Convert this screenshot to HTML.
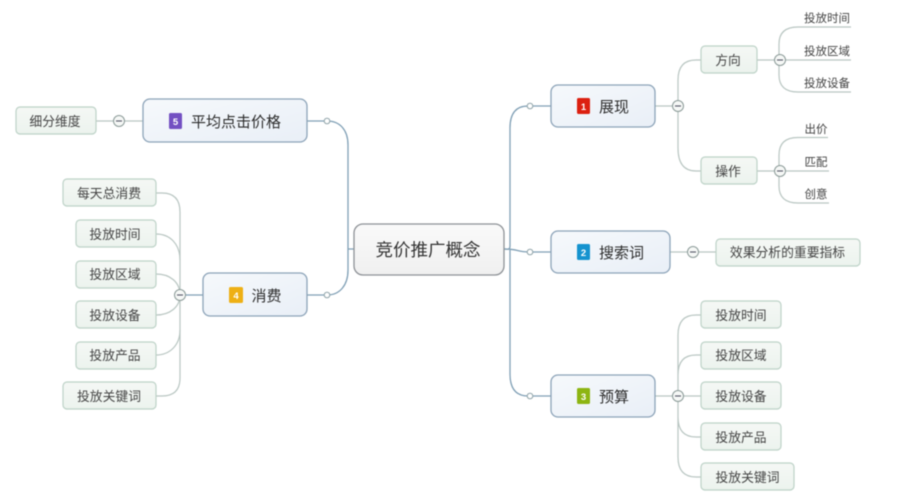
<!DOCTYPE html>
<html><head><meta charset="utf-8">
<style>
html,body{margin:0;padding:0;background:#fff;width:900px;height:500px;overflow:hidden}
svg{display:block;filter:blur(.45px)}
text{font-family:"Liberation Sans","Noto Sans CJK SC",sans-serif;text-anchor:middle;fill:#333}
.leaf{font-size:11.5px;fill:#444}
.sub{font-size:12.8px;fill:#444}
.main{font-size:15px;fill:#2c2c2c}
.num{font-size:9.5px;fill:#fff;font-weight:bold}
.s{fill:none;stroke:#b9c6c2;stroke-width:1.2}
.m{fill:none;stroke:#7f9fb5;stroke-width:1.3}
.g{fill:url(#gg);stroke:#bdd2c7;stroke-width:1.2}
.b{fill:url(#bg);stroke:#8ca3b8;stroke-width:1.3}
.c{fill:#f6f8f6;stroke:#8b9a98;stroke-width:1}
.d{stroke:#556;stroke-width:1.1}
.o{fill:#fff;stroke:#8fa3a8;stroke-width:1}
</style></head><body>
<svg width="900" height="500" viewBox="0 0 900 500" xmlns="http://www.w3.org/2000/svg">
<defs>
<linearGradient id="gg" x1="0" y1="0" x2="0" y2="1"><stop offset="0" stop-color="#f5f8f5"/><stop offset="1" stop-color="#ecf3ee"/></linearGradient>
<linearGradient id="bg" x1="0" y1="0" x2="1" y2="1"><stop offset="0" stop-color="#f6f9fc"/><stop offset="1" stop-color="#e9eff7"/></linearGradient>
<linearGradient id="cg" x1="0" y1="0" x2="0" y2="1"><stop offset="0" stop-color="#fafafa"/><stop offset="1" stop-color="#f0f0f0"/></linearGradient>
</defs>

<!-- main connectors -->
<path class="m" d="M504 249C508 249 510 250 510 246V128Q510 106 528 106H551"/>
<path class="m" d="M504 249C520 249 515 252 530 252H551"/>
<path class="m" d="M510 250V374Q510 396 528 396H551"/>
<path class="m" d="M354 249H348M307 121H327C340 121 348 130 348 145V270C348 285 340 295 327 295H307"/>

<!-- right sub connectors -->
<path class="s" d="M655 106H678M678 106V80Q678 60 696 60H701M678 106V148Q678 171 696 171H701"/>
<path class="s" d="M757 60H851M779 60V44Q779 27 798 27H851M779 60V75Q779 92 798 92H851"/>
<path class="s" d="M757 171H829M779 171V155Q779 137.500 798 137.500H828M779 171V186Q779 203 798 203H829"/>
<path class="s" d="M670 252H716"/>
<path class="s" d="M655 396H701M678 396V335Q678 315 696 315H701M678 396V375Q678 355 696 355H701M678 396V417Q678 437 696 437H701M678 396V457Q678 477 696 477H701"/>

<!-- left sub connectors -->
<path class="s" d="M96 121H143"/>
<path class="s" d="M156 193H162Q180 193 180 212V378Q180 396 162 396H156"/>
<path class="s" d="M156 234C170 234 180 244 180 260M156 274C170 274 180 282 180 295M156 315C170 315 180 307 180 295M156 355C170 355 180 345 180 330"/>
<path class="m" d="M180 295H203"/>

<!-- root -->
<rect x="354" y="224" width="150" height="51" rx="9" fill="url(#cg)" stroke="#8d9196" stroke-width="1.3"/>
<text x="428" y="256" style="font-size:17.500px" fill="#222">竞价推广概念</text>

<!-- main nodes -->
<rect class="b" x="551" y="85" width="104" height="42" rx="7"/>
<rect x="577" y="98" width="13" height="16" rx="1.500" fill="#dc2010"/><text class="num" x="583.500" y="110">1</text>
<text class="main" x="614" y="112">展现</text>

<rect class="b" x="551" y="231" width="119" height="42" rx="7"/>
<rect x="577" y="244" width="13" height="16" rx="1.500" fill="#1593cf"/><text class="num" x="583.500" y="256">2</text>
<text class="main" x="621.500" y="258">搜索词</text>

<rect class="b" x="551" y="375" width="104" height="42" rx="7"/>
<rect x="577" y="388" width="13" height="16" rx="1.500" fill="#8db512"/><text class="num" x="583.500" y="400">3</text>
<text class="main" x="614" y="402">预算</text>

<rect class="b" x="203" y="273" width="104" height="43" rx="7"/>
<rect x="229" y="287" width="14" height="16" rx="1.500" fill="#eeb015"/><text class="num" x="236" y="299">4</text>
<text class="main" x="266.500" y="301">消费</text>

<rect class="b" x="143" y="99" width="164" height="43" rx="7"/>
<rect x="169" y="113" width="13" height="16" rx="1.500" fill="#7350c2"/><text class="num" x="175.500" y="125">5</text>
<text class="main" x="236" y="127">平均点击价格</text>

<!-- green nodes -->
<rect class="g" x="701" y="46" width="56" height="27" rx="4"/><text class="sub" x="728" y="65">方向</text>
<rect class="g" x="701" y="157" width="56" height="27" rx="4"/><text class="sub" x="728" y="176">操作</text>
<rect class="g" x="716" y="239" width="144" height="27" rx="4"/><text class="sub" x="787.500" y="257">效果分析的重要指标</text>

<rect class="g" x="701" y="301" width="80" height="27" rx="4"/><text class="sub" x="741" y="320">投放时间</text>
<rect class="g" x="701" y="342" width="80" height="27" rx="4"/><text class="sub" x="741" y="360">投放区域</text>
<rect class="g" x="701" y="382" width="80" height="27" rx="4"/><text class="sub" x="741" y="401">投放设备</text>
<rect class="g" x="701" y="423" width="80" height="27" rx="4"/><text class="sub" x="741" y="442">投放产品</text>
<rect class="g" x="701" y="463" width="93" height="27" rx="4"/><text class="sub" x="747.500" y="482">投放关键词</text>

<rect class="g" x="16" y="107" width="80" height="27" rx="4"/><text class="sub" x="55" y="126">细分维度</text>
<rect class="g" x="63" y="179" width="93" height="27" rx="4"/><text class="sub" x="109" y="198">每天总消费</text>
<rect class="g" x="76" y="220" width="80" height="27" rx="4"/><text class="sub" x="115" y="239">投放时间</text>
<rect class="g" x="76" y="261" width="80" height="27" rx="4"/><text class="sub" x="115" y="279">投放区域</text>
<rect class="g" x="76" y="301" width="80" height="27" rx="4"/><text class="sub" x="115" y="320">投放设备</text>
<rect class="g" x="76" y="342" width="80" height="27" rx="4"/><text class="sub" x="115" y="360">投放产品</text>
<rect class="g" x="63" y="382" width="93" height="27" rx="4"/><text class="sub" x="109" y="401">投放关键词</text>

<!-- leaf labels -->
<text class="leaf" x="827" y="22">投放时间</text>
<text class="leaf" x="827" y="55">投放区域</text>
<text class="leaf" x="827" y="87">投放设备</text>
<text class="leaf" x="816" y="133">出价</text>
<text class="leaf" x="816" y="166">匹配</text>
<text class="leaf" x="816" y="198">创意</text>

<!-- toggles -->
<circle class="c" cx="678" cy="106" r="5.500"/><path class="d" d="M675 106H681"/>
<circle class="c" cx="780" cy="60" r="5.500"/><path class="d" d="M777 60H783"/>
<circle class="c" cx="780" cy="171" r="5.500"/><path class="d" d="M777 171H783"/>
<circle class="c" cx="693" cy="252" r="5.500"/><path class="d" d="M690 252H696"/>
<circle class="c" cx="678" cy="396" r="5.500"/><path class="d" d="M675 396H681"/>
<circle class="c" cx="119" cy="121" r="5.500"/><path class="d" d="M116 121H122"/>
<circle class="c" cx="180" cy="295" r="5.500"/><path class="d" d="M177 295H183"/>

<circle class="o" cx="530" cy="106" r="2.800"/>
<circle class="o" cx="530" cy="252" r="2.800"/>
<circle class="o" cx="530" cy="396" r="2.800"/>
<circle class="o" cx="327" cy="121" r="2.800"/>
<circle class="o" cx="327" cy="295" r="2.800"/>
</svg>
</body></html>
